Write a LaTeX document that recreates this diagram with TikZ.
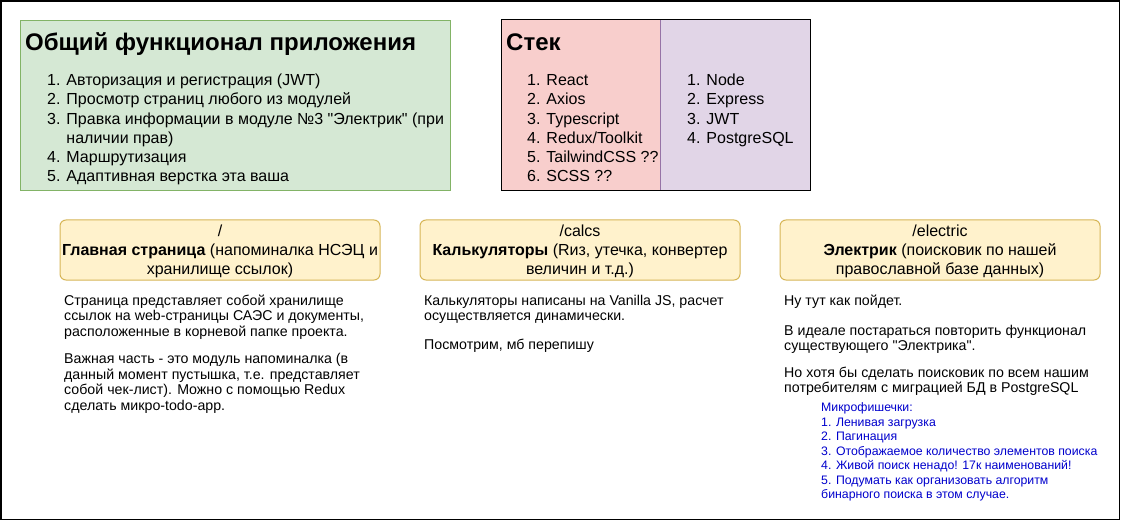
\documentclass[tikz,border=0pt]{standalone}
\usepackage{fontspec}
\setmainfont{Liberation Sans}[Ligatures=TeXOff]
\definecolor{gfill}{HTML}{D5E8D4}
\definecolor{gstroke}{HTML}{82B366}
\definecolor{rfill}{HTML}{F8CECC}
\definecolor{pfill}{HTML}{E1D5E7}
\definecolor{pstroke}{HTML}{9673A6}
\definecolor{yfill}{HTML}{FFF2CC}
\definecolor{ystroke}{HTML}{D6B656}
\definecolor{bluetext}{RGB}{0,0,204}
\newcommand{\Ta}{\rule{0pt}{16pt}}
\newcommand{\Tb}{\rule{0pt}{14pt}}
\newcommand{\Tc}{\rule{0pt}{12pt}}
\begin{document}
\begin{tikzpicture}[x=1pt,y=-1pt,
  boxtitle/.style={anchor=base west,inner sep=0pt,font=\fontsize{24}{28}\selectfont\bfseries},
  listtext/.style={anchor=north west,inner sep=0pt,align=left,font=\fontsize{16}{19.2}\selectfont},
  ybox/.style={draw=ystroke,fill=yfill,line width=1pt,rounded corners=6pt,minimum width=320pt,minimum height=60pt,inner sep=0pt},
  ytext/.style={inner sep=0pt,align=center,font=\fontsize{16}{19.3}\selectfont},
  bodytext/.style={anchor=north west,inner sep=0pt,align=left,font=\fontsize{14.2}{15.5}\selectfont},
  microtext/.style={anchor=north west,inner sep=0pt,align=left,text=bluetext,font=\fontsize{12.3}{14.5}\selectfont}]
\useasboundingbox (0,0) rectangle (1121,521);
\draw[line width=1.6pt] (1,1) rectangle (1119.5,519.5);

% general functionality box
\node[draw=gstroke,fill=gfill,line width=1pt,anchor=north west,minimum width=430pt,minimum height=170pt,inner sep=0pt] (func) at (20,20) {};
\node[boxtitle] (functitle) at (25,50.5) {Общий функционал приложения};
\node[listtext] (funclist) at (47,69.5) {\Ta1. Авторизация и регистрация (JWT)\\
2. Просмотр страниц любого из модулей\\
3. Правка информации в модуле №3 "Электрик" (при\\
\phantom{3. }наличии прав)\\
4. Маршрутизация\\
5. Адаптивная верстка эта ваша};

% stack box
\node[fill=rfill,anchor=north west,minimum width=159pt,minimum height=170pt,inner sep=0pt] (front) at (501,20) {};
\node[fill=pfill,anchor=north west,minimum width=150pt,minimum height=170pt,inner sep=0pt] (back) at (660,20) {};
\draw[pstroke,line width=1pt] (front.north east) -- (front.south east);
\draw[line width=1pt] (front.north west) rectangle (back.south east);
\node[boxtitle] (stacktitle) at (506,50.5) {Стек};
\node[listtext] (frontlist) at (527,69.5) {\Ta1. React\\
2. Axios\\
3. Typescript\\
4. Redux/Toolkit\\
5. TailwindCSS ??\\
6. SCSS ??};
\node[listtext] (backlist) at (687,69.5) {\Ta1. Node\\
2. Express\\
3. JWT\\
4. PostgreSQL};

% module boxes
\node[ybox] (home) at (220,250) {};
\node[ytext] (homelabel) at (220,251.5) {/\\\textbf{Главная страница} (напоминалка НСЭЦ и\\хранилище ссылок)};
\node[ybox] (calcs) at (580,250) {};
\node[ytext] (calcslabel) at (580,251.5) {/calcs\\\textbf{Калькуляторы} (Rиз, утечка, конвертер\\величин и т.д.)};
\node[ybox] (electric) at (940,250) {};
\node[ytext] (electriclabel) at (940,251.5) {/electric\\\textbf{Электрик} (поисковик по нашей\\православной базе данных)};

% descriptions
\node[bodytext] (homeA) at (64,291) {\Tb Страница представляет собой хранилище\\
ссылок на web-страницы САЭС и документы,\\
расположенные в корневой папке проекта.};
\node[bodytext] (homeB) at (64,349.5) {\Tb Важная часть - это модуль напоминалка (в\\
данный момент пустышка, т.е. представляет\\
собой чек-лист). Можно с помощью Redux\\
сделать микро-todo-app.};

\node[bodytext] (calcsA) at (424,291) {\Tb Калькуляторы написаны на Vanilla JS, расчет\\
осуществляется динамически.};
\node[bodytext] (calcsB) at (424,335) {\Tb Посмотрим, мб перепишу};

\node[bodytext] (elA) at (784,291) {\Tb Ну тут как пойдет.};
\node[bodytext] (elB) at (784,321) {\Tb В идеале постараться повторить функционал\\
существующего "Электрика".};
\node[bodytext] (elC) at (784,363) {\Tb Но хотя бы сделать поисковик по всем нашим\\
потребителям с миграцией БД в PostgreSQL};

\node[microtext] (micro) at (821,399.5) {\Tc Микрофишечки:\\
1. Ленивая загрузка\\
2. Пагинация\\
3. Отображаемое количество элементов поиска\\
4. Живой поиск ненадо! 17к наименований!\\
5. Подумать как организовать алгоритм\\
бинарного поиска в этом случае.};
\end{tikzpicture}
\end{document}
